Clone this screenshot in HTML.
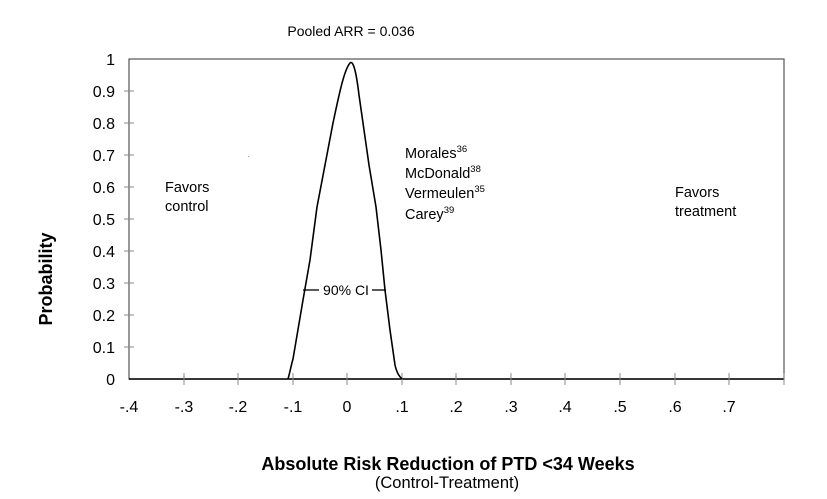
<!DOCTYPE html>
<html><head><style>body{margin:0;background:#fff}svg{display:block}text{font-family:"Liberation Sans",Arial,sans-serif;fill:#000}</style></head>
<body>
<svg width="827" height="499" viewBox="0 0 827 499">
<rect x="129" y="59" width="655" height="320" fill="none" stroke="#555" stroke-width="1.2"/>
<line x1="129" y1="379" x2="784" y2="379" stroke="#000" stroke-width="1.6"/>
<g stroke="#888" stroke-width="1">
<line x1="124" y1="91" x2="134" y2="91"/><line x1="124" y1="123" x2="134" y2="123"/><line x1="124" y1="155" x2="134" y2="155"/><line x1="124" y1="187" x2="134" y2="187"/><line x1="124" y1="219" x2="134" y2="219"/><line x1="124" y1="251" x2="134" y2="251"/><line x1="124" y1="283" x2="134" y2="283"/><line x1="124" y1="315" x2="134" y2="315"/><line x1="124" y1="347" x2="134" y2="347"/>
<line x1="184" y1="373" x2="184" y2="385"/><line x1="238" y1="373" x2="238" y2="385"/><line x1="293" y1="373" x2="293" y2="385"/><line x1="347" y1="373" x2="347" y2="385"/><line x1="402" y1="373" x2="402" y2="385"/><line x1="456" y1="373" x2="456" y2="385"/><line x1="511" y1="373" x2="511" y2="385"/><line x1="565" y1="373" x2="565" y2="385"/><line x1="620" y1="373" x2="620" y2="385"/><line x1="675" y1="373" x2="675" y2="385"/><line x1="729" y1="373" x2="729" y2="385"/><line x1="784" y1="373" x2="784" y2="385"/>
</g>
<g font-size="16" text-anchor="end">
<text x="115" y="65">1</text><text x="115" y="97">0.9</text><text x="115" y="129">0.8</text><text x="115" y="161">0.7</text><text x="115" y="193">0.6</text><text x="115" y="225">0.5</text><text x="115" y="257">0.4</text><text x="115" y="289">0.3</text><text x="115" y="321">0.2</text><text x="115" y="353">0.1</text><text x="115" y="385">0</text>
</g>
<g font-size="16" text-anchor="middle">
<text x="129" y="412">-.4</text><text x="184" y="412">-.3</text><text x="238" y="412">-.2</text><text x="293" y="412">-.1</text><text x="347" y="412">0</text><text x="402" y="412">.1</text><text x="456" y="412">.2</text><text x="511" y="412">.3</text><text x="565" y="412">.4</text><text x="620" y="412">.5</text><text x="675" y="412">.6</text><text x="729" y="412">.7</text>
</g>
<path d="M288,379 C290,372 291,366 293,359 L303,300 L310,260 L317,207 L325,165 L333,123 C339,95 344,70 350,63 C353,60 356,70 359,95 L363,123 L369,165 L376,207 L381,250 L385,290 L390,330 L395,365 C397,374 400,377 402,379" fill="none" stroke="#000" stroke-width="1.6"/>
<line x1="303" y1="290" x2="319" y2="290" stroke="#000" stroke-width="1.3"/>
<line x1="372" y1="290" x2="386" y2="290" stroke="#000" stroke-width="1.3"/>
<text x="346" y="295" font-size="14" text-anchor="middle">90% CI</text>
<text x="248" y="157" font-size="6">.</text>
<text x="165" y="192" font-size="14.5">Favors</text><text x="165" y="211" font-size="14.5">control</text>
<text x="675" y="197" font-size="14.5">Favors</text><text x="675" y="216" font-size="14.5">treatment</text>
<g font-size="14.5">
<text x="405" y="158">Morales<tspan font-size="9.5" dy="-6">36</tspan></text>
<text x="405" y="178">McDonald<tspan font-size="9.5" dy="-6">38</tspan></text>
<text x="405" y="198">Vermeulen<tspan font-size="9.5" dy="-6">35</tspan></text>
<text x="405" y="219">Carey<tspan font-size="9.5" dy="-6">39</tspan></text>
</g>
<text x="351" y="36" font-size="14" text-anchor="middle">Pooled ARR = 0.036</text>
<text x="52" y="279" font-size="18" font-weight="bold" text-anchor="middle" transform="rotate(-90 52 279)">Probability</text>
<text x="448" y="470" font-size="18" font-weight="bold" text-anchor="middle">Absolute Risk Reduction of PTD &lt;34 Weeks</text>
<text x="447" y="488" font-size="16.5" text-anchor="middle">(Control-Treatment)</text>
</svg>
</body></html>
